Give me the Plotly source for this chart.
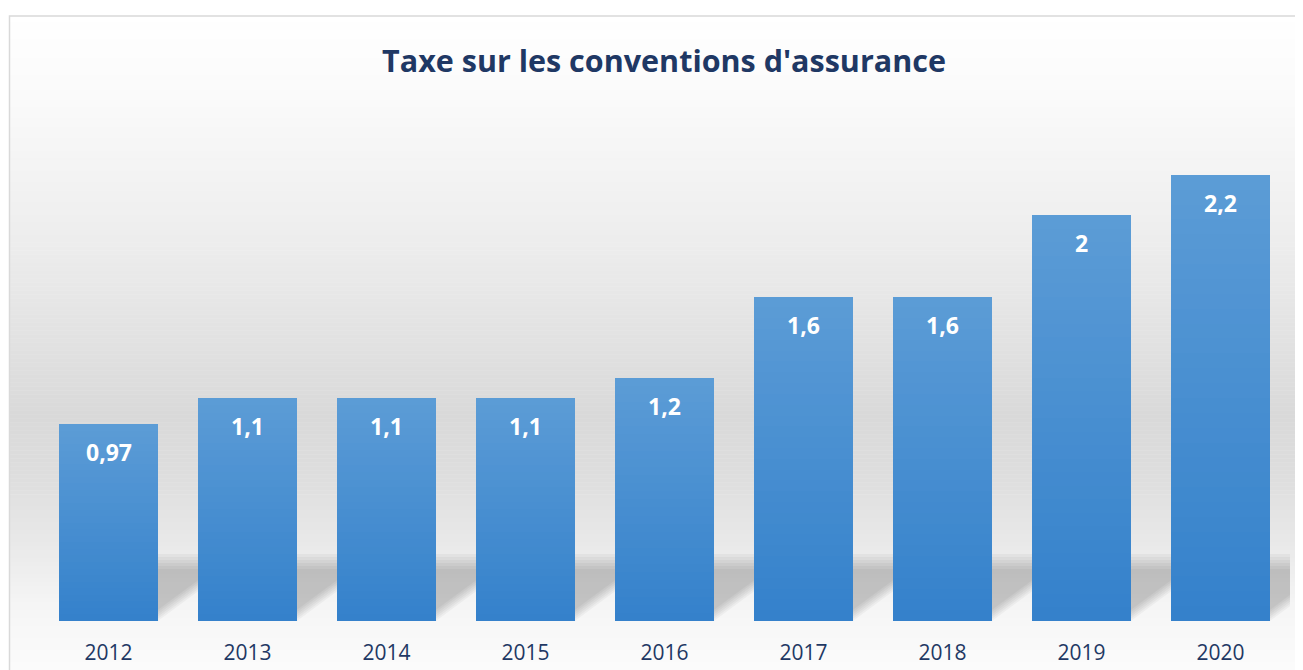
import plotly.graph_objects as go

years = ["2012", "2013", "2014", "2015", "2016", "2017", "2018", "2019", "2020"]
values = [0.97, 1.1, 1.1, 1.1, 1.2, 1.6, 1.6, 2.0, 2.2]
title_text = "Taxe sur les conventions d'assurance"

OFF = 8                      # page body margin of the html page
W, H = 1303 - OFF, 670 - OFF
# plot area bounds, in figure pixels
PL, PR, PT, PB = 39 - OFF, 1290 - OFF, 113.5 - OFF, 621 - OFF
Y_MAX = 2.5
BARGAP = 0.288
FONT = "Open Sans, Noto Sans, sans-serif"

def lerp(c1, c2, t):
    return tuple(round(a + (b - a) * t) for a, b in zip(c1, c2))

def rgb(c):
    return "rgb(%d,%d,%d)" % c

fig = go.Figure()

# gradient bars: stacked slices
N = 30
top_c = (92, 156, 214)
bot_c = (52, 129, 203)
for i in range(N):
    t = (i + 0.5) / N
    fig.add_trace(go.Bar(
        x=years, y=[v / N for v in values],
        marker=dict(color=rgb(lerp(bot_c, top_c, t)), line=dict(width=0)),
        showlegend=False, hoverinfo="skip",
    ))

# data labels (category index positions)
for idx, v in enumerate(values):
    fig.add_annotation(x=idx, y=v, text="<b>%s</b>" % ("%g" % v).replace(".", ","),
                       showarrow=False, yanchor="middle", yshift=-28,
                       font=dict(family=FONT, size=23, color="white"))

# background gradient (paper coordinates), stops given in page pixels
def py(ypix):
    return (PB - (ypix - OFF)) / (PB - PT)

def px(xpix):
    return ((xpix - OFF) - PL) / (PR - PL)

stops = [(14, (255, 255, 255)), (100, (250, 250, 250)), (250, (236, 236, 236)),
         (415, (217, 217, 217)), (480, (222, 222, 222)), (560, (236, 236, 236)),
         (600, (244, 244, 244)), (630, (248, 248, 248)), (670, (251, 251, 251))]
shapes = []
step = 4
y = 14
while y < 670:
    ym = y + step / 2
    col = stops[-1][1]
    for (y0, c0), (y1, c1) in zip(stops[:-1], stops[1:]):
        if y0 <= ym <= y1:
            col = lerp(c0, c1, (ym - y0) / (y1 - y0))
            break
    shapes.append(dict(type="rect", xref="paper", yref="paper", layer="below",
                       x0=px(10), x1=px(1320), y0=py(y + step + 0.5), y1=py(y),
                       fillcolor=rgb(col), line=dict(width=0)))
    y += step
shapes.append(dict(type="rect", xref="paper", yref="paper", layer="below",
                   x0=px(9.5), x1=px(1320), y0=py(690), y1=py(15.5),
                   fillcolor="rgba(0,0,0,0)", line=dict(color="#d9d9d9", width=1.5)))

# soft skewed shadows behind each bar (built from bar index and axis scale)
cat_px = (PR - PL) / len(years)
unit_px = (PB - PT) / Y_MAX
half = (1 - BARGAP) / 2
for idx in range(len(years)):
    for j in range(6):
        hpx = 52 + 3 * j
        skew = 1.35
        dy = hpx / unit_px
        dx = hpx * skew / cat_px
        x0 = idx - half
        x1 = idx + half - j * 3 / cat_px
        path = "M %f,0 L %f,0 L %f,%f L %f,%f Z" % (x0, x1, x1 + dx, dy, x0 + dx, dy)
        shapes.append(dict(type="path", xref="x", yref="y", layer="below", path=path,
                           fillcolor="rgba(0,0,0,0.034)", line=dict(width=0)))

fig.update_layout(
    width=W, height=H,
    margin=dict(l=PL, r=W - PR, t=PT, b=H - PB, pad=0, autoexpand=False),
    barmode="stack", bargap=BARGAP,
    paper_bgcolor="white", plot_bgcolor="rgba(0,0,0,0)",
    shapes=shapes,
    title=dict(text="<b>%s</b>" % title_text, x=(664 - OFF) / W, xanchor="center",
               y=1 - (61 - OFF) / H, yanchor="middle", yref="container",
               font=dict(family=FONT, size=30.5, color="#1f3864")),
    xaxis=dict(type="category", range=[-0.5, len(years) - 0.5], automargin=False,
               showgrid=False, showline=False, zeroline=False, ticks="",
               ticklabelstandoff=17,
               tickfont=dict(family=FONT, size=21, color="#1f3864")),
    yaxis=dict(range=[0, Y_MAX], visible=False, automargin=False,
               showgrid=False, zeroline=False),
    showlegend=False,
)

fig.write_html("out.html")
